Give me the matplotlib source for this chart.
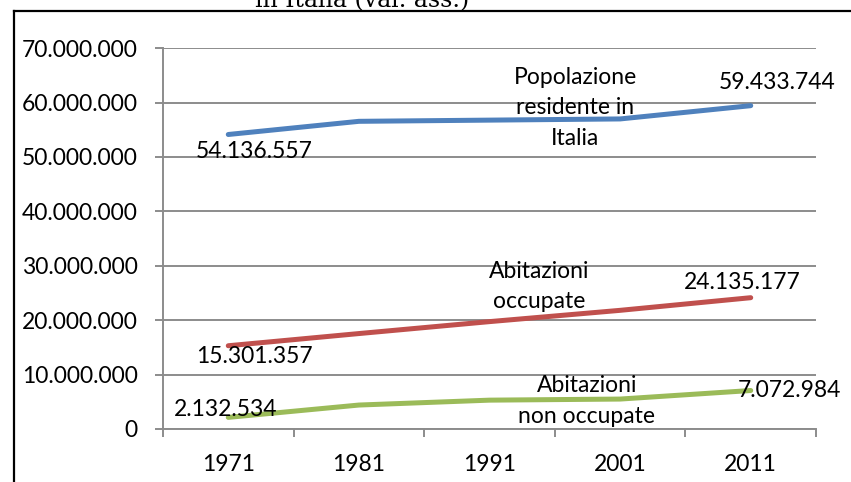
import matplotlib.pyplot as plt
from matplotlib.lines import Line2D
from matplotlib.ticker import FuncFormatter

years = ['1971', '1981', '1991', '2001', '2011']
popolazione = [54136557, 56556911, 56778031, 56995744, 59433744]
abitazioni_occupate = [15301357, 17541000, 19736000, 21810676, 24135177]
abitazioni_non_occupate = [2132534, 4400000, 5300000, 5500000, 7072984]

series_names = ['Popolazione\nresidente in\nItalia', 'Abitazioni\noccupate',
                'Abitazioni\nnon occupate']
colors = ['#4F81BD', '#C0504D', '#9BBB59']

plt.rcParams['font.family'] = ['Lato', 'DejaVu Sans']

fig = plt.figure(figsize=(8.51, 4.82), dpi=100)
ax = fig.add_axes([0.1915, 0.110, 0.7674, 0.790])

x = [i + 0.5 for i in range(len(years))]
all_series = [popolazione, abitazioni_occupate, abitazioni_non_occupate]
for vals, c in zip(all_series, colors):
    ax.plot(x, vals, color=c, lw=3.6, solid_capstyle='round', zorder=3)

ax.set_xlim(0, len(years))
ax.set_ylim(0, 70000000)
ax.set_yticks(range(0, 70000001, 10000000))
ax.yaxis.set_major_formatter(FuncFormatter(lambda v, p: f"{v:,.0f}".replace(",", ".")))
ax.grid(axis='y', color='#8c8c8c', lw=1.4, zorder=0)

# category boundaries get the tick marks, labels sit at the centres
ax.set_xticks(range(len(years) + 1))
ax.set_xticklabels([])
ax.set_xticks(x, minor=True)
ax.set_xticklabels(years, minor=True)
ax.tick_params(axis='x', which='major', length=6, width=1.4, color='#8c8c8c', direction='out')
ax.tick_params(axis='x', which='minor', length=0, pad=18, labelsize=16.5)
ax.tick_params(axis='y', length=6, width=1.4, color='#8c8c8c', direction='out', pad=12, labelsize=16.5)

for s in ['top', 'right']:
    ax.spines[s].set_visible(False)
for s in ['left', 'bottom']:
    ax.spines[s].set_color('#8c8c8c')
    ax.spines[s].set_linewidth(1.4)

def fmt(v):
    return f"{v:,.0f}".replace(",", ".")

# data labels on first and last points
label_offsets = [((19, -12), (19, 17)), ((19, -8), (-6, 11)), ((-2, 6), (28, 0))]
for vals, (off0, off1) in zip(all_series, label_offsets):
    ax.annotate(fmt(vals[0]), (x[0], vals[0]), xytext=off0, textcoords='offset points',
                ha='center', va='center', fontsize=16.5, zorder=4)
    ax.annotate(fmt(vals[-1]), (x[-1], vals[-1]), xytext=off1, textcoords='offset points',
                ha='center', va='center', fontsize=16.5, zorder=4)

# series names
name_pos = [(0.631, 0.843), (0.576, 0.374), (0.649, 0.0735)]
for name, (tx, ty) in zip(series_names, name_pos):
    ax.text(tx, ty, name, transform=ax.transAxes, ha='center', va='center',
            multialignment='center', fontsize=16.5, linespacing=1.55, zorder=4)

# clipped title above the frame
fig.text(0.425, 0.9855, 'in Italia (val. ass.)', ha='center', va='baseline',
         fontsize=17, family='DejaVu Serif')

# frame lines
fig.add_artist(Line2D([0.0165, 1.0], [0.977, 0.977], color='black', lw=1.6))
fig.add_artist(Line2D([0.0165, 0.0165], [0.0, 0.977], color='black', lw=1.6))

fig.savefig('out.png', dpi=100)
